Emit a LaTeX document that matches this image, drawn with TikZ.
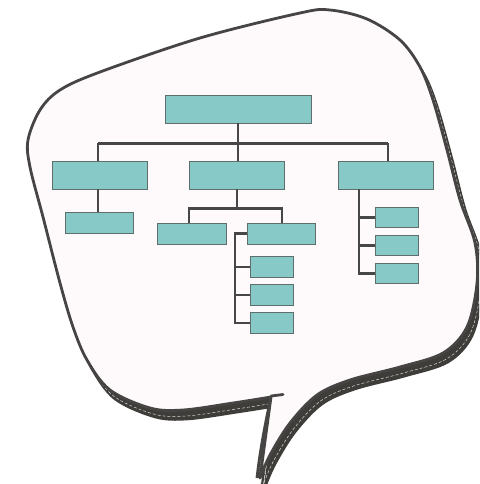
\documentclass[tikz,border=0pt]{standalone}
\usetikzlibrary{calc}
\definecolor{bubblefill}{HTML}{FEFAFB}
\definecolor{bubbleline}{HTML}{464544}
\definecolor{shadowc}{HTML}{3F3D3A}
\definecolor{boxfill}{HTML}{86C9C6}
\definecolor{boxline}{HTML}{5E6E6D}
\definecolor{conn}{HTML}{474747}
\begin{document}
\begin{tikzpicture}[x=1pt,y=-1pt,
  orgbox/.style={rectangle, draw=boxline, fill=boxfill, line width=0.9pt, inner sep=0pt},
  bigbox/.style={orgbox, minimum width=95pt, minimum height=28pt},
  smallbox/.style={orgbox, minimum width=68pt, minimum height=21pt},
  tinybox/.style={orgbox, minimum width=43pt, minimum height=20.5pt},
  link/.style={draw=conn, line width=2.6pt}]
\useasboundingbox (0,0) rectangle (479,484);
\clip (0,0) rectangle (479,484);
\def\bubble{(257,478) .. controls (260,450) and (266,420) .. (271,397)
  plot[smooth, tension=0.55] coordinates {(271,397) (233,403) (183,410) (150,408) (110,390) (87,360) (73,327) (60,283) (43,217) (30,167) (28,140) (40,110) (60,90) (100,72) (200,38) (300,13) (330,10) (367,19) (400,40) (420,67) (433,100) (447,150) (460,200) (475,243) (477,283) (467,327) (443,353) (400,367) (350,380) (317,395) (290,423) (270,455) (260,478)} -- cycle}
% shadow
\fill[shadowc, shift={(5,9)}] \bubble;
\draw[shadowc, line width=2.5pt, line join=round, shift={(5,9)}] \bubble;
\draw[gray!30, line width=0.5pt, densely dashed, shift={(3.5,6)}] \bubble;
% bubble
\draw[bubbleline, fill=bubblefill, line width=2.8pt, line join=round] \bubble;
\draw[bubbleline, line width=2.8pt, line cap=round] (271,396) -- (283,394.5);
% boxes
\node[orgbox, minimum width=146pt, minimum height=28pt] (root) at (238,109) {};
\node[bigbox] (la) at (99.5,175) {};
\node[bigbox] (lb) at (236.5,175) {};
\node[bigbox] (lc) at (385.5,175) {};
\node[smallbox] (la1) at (99,222.5) {};
\node[smallbox, minimum width=69pt] (mb1) at (191.5,233.5) {};
\node[smallbox] (mb2) at (281,233.5) {};
\node[tinybox] (m1) at (271.5,267) {};
\node[tinybox] (m2) at (271.5,295) {};
\node[tinybox] (m3) at (271.5,323) {};
\node[tinybox] (r1) at (396.5,217.5) {};
\node[tinybox] (r2) at (396.5,245.5) {};
\node[tinybox] (r3) at (396.5,273.5) {};
% connectors
\coordinate (busL) at (98,143.3);
\coordinate (busR) at (388,143.3);
\coordinate (rootx) at (238,123);
\draw[link] (root.south -| rootx) -- (rootx |- lb.north);
\draw[link] (busL) -- (busR);
\draw[link] (busL) -- (busL |- la.north);
\draw[link] (busR) -- (busR |- lc.north);
\draw[link] (la.south -| busL) -- (busL |- la1.north);
\coordinate (midbus) at (237,208.7);
\coordinate (midL) at (189,208.7);
\coordinate (midR) at (282,208.7);
\draw[link] (lb.south -| midbus) -- (midbus);
\draw[link] (midL |- mb1.north) -- (midL) -- (midR) -- (midR |- mb2.north);
\coordinate (mvx) at (235,233.5);
\draw[link] (mb2.west) -- (mvx) -- (mvx |- m3.west) -- (m3.west);
\draw[link] (mvx |- m1.west) -- (m1.west);
\draw[link] (mvx |- m2.west) -- (m2.west);
\coordinate (rvx) at (359,189);
\draw[link] (rvx |- lc.south) -- (rvx |- r3.west) -- (r3.west);
\draw[link] (rvx |- r1.west) -- (r1.west);
\draw[link] (rvx |- r2.west) -- (r2.west);
\end{tikzpicture}
\end{document}
